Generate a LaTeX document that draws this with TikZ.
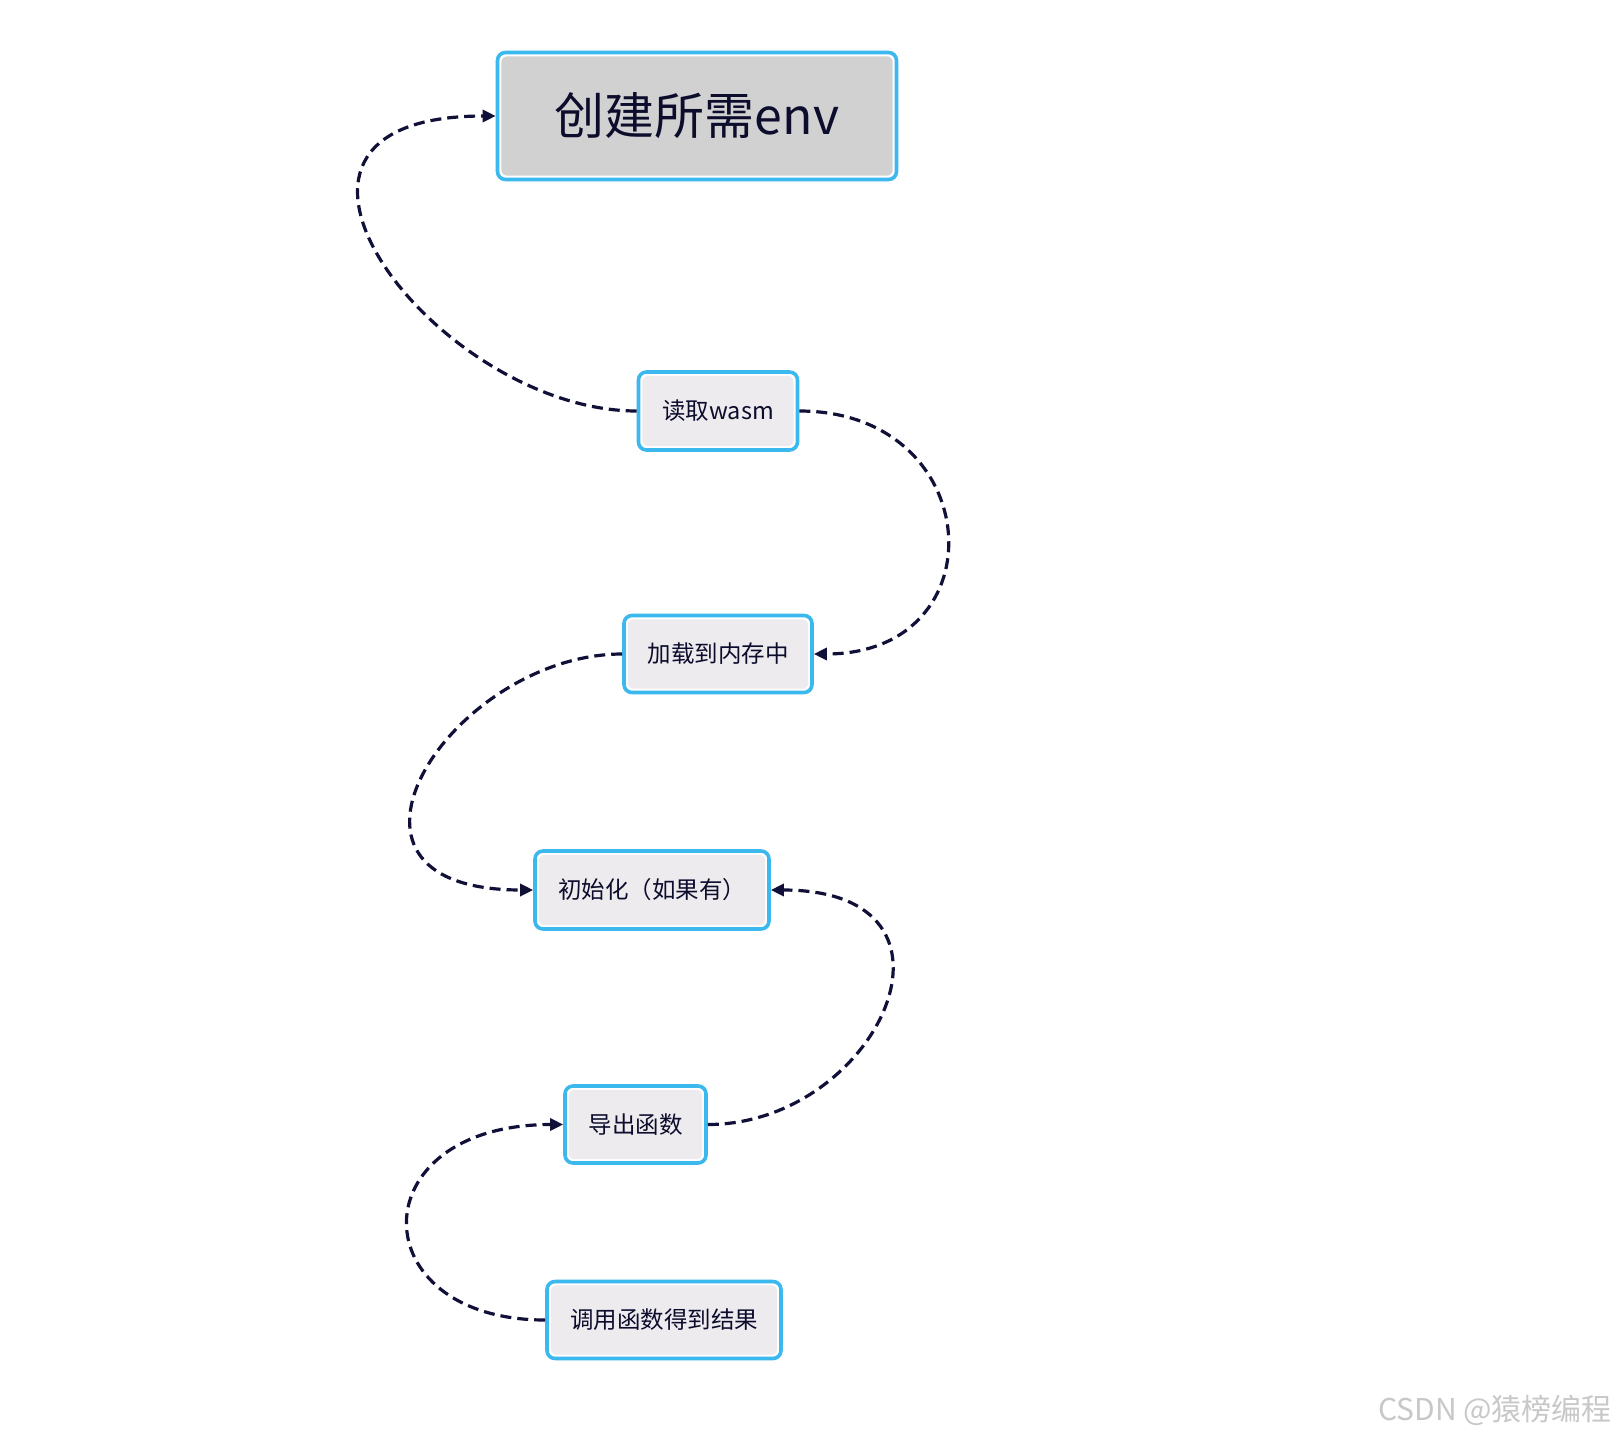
\documentclass[tikz,border=0pt]{standalone}
\usepackage{fontspec}
\newfontfamily\cjk{Noto Sans CJK SC}
\usetikzlibrary{arrows.meta}
\definecolor{bordblue}{RGB}{59,184,238}
\definecolor{smallfill}{RGB}{238,235,238}
\definecolor{bigfill}{RGB}{209,209,209}
\definecolor{txt}{RGB}{12,12,44}
\definecolor{lnk}{RGB}{16,16,56}
\definecolor{wm}{RGB}{200,200,200}
\tikzset{
  box/.style={draw=bordblue, line width=3.6pt, fill=white, rounded corners=8pt,
    text=txt, inner sep=0pt, align=center,
    font=\cjk\fontsize{23.5}{28}\selectfont,
    path picture={\fill[#1, rounded corners=6pt]
      ([shift={(3.8pt,-3.8pt)}]path picture bounding box.north west) rectangle
      ([shift={(-3.8pt,3.8pt)}]path picture bounding box.south east);}},
  box/.default=smallfill,
  conn/.style={draw=lnk, line width=3.2pt, dash pattern=on 11pt off 6pt,
    -{Triangle[length=13pt,width=12pt]}}
}
\begin{document}
\begin{tikzpicture}[x=1pt,y=-1pt]
\useasboundingbox[fill=white] (0,0) rectangle (1618,1438);
\node[box=bigfill, minimum width=399pt, minimum height=127pt,
      font=\cjk\fontsize{50}{60}\selectfont] (top) at (697,116) {创建所需env};
\node[box, minimum width=159pt, minimum height=78pt] (read) at (718,411) {读取wasm};
\node[box, minimum width=188pt, minimum height=77pt] (load) at (718,654) {加载到内存中};
\node[box, minimum width=234pt, minimum height=78pt] (init) at (652,890) {初始化（如果有）};
\node[box, minimum width=141pt, minimum height=77pt] (export) at (635.5,1124.5) {导出函数};
\node[box, minimum width=234pt, minimum height=77pt] (call) at (664,1320) {调用函数得到结果};

\draw[conn] (read.west) .. controls +(-200,0) and +(-285,0) .. (top.west);
\draw[conn] (read.east) .. controls +(187,0) and +(187,0) .. (load.east);
\draw[conn] (load.west) .. controls +(-170,0) and +(-236,0) .. (init.west);
\draw[conn] (export.east) .. controls +(170,0) and +(215,0) .. (init.east);
\draw[conn] (call.west) .. controls +(-185,0) and +(-205,0) .. (export.west);

\node[text=wm, font=\cjk\fontsize{30}{36}\selectfont, anchor=east, inner sep=0pt] (wmark) at (1612,1410) {CSDN @猿榜编程};
\end{tikzpicture}
\end{document}
